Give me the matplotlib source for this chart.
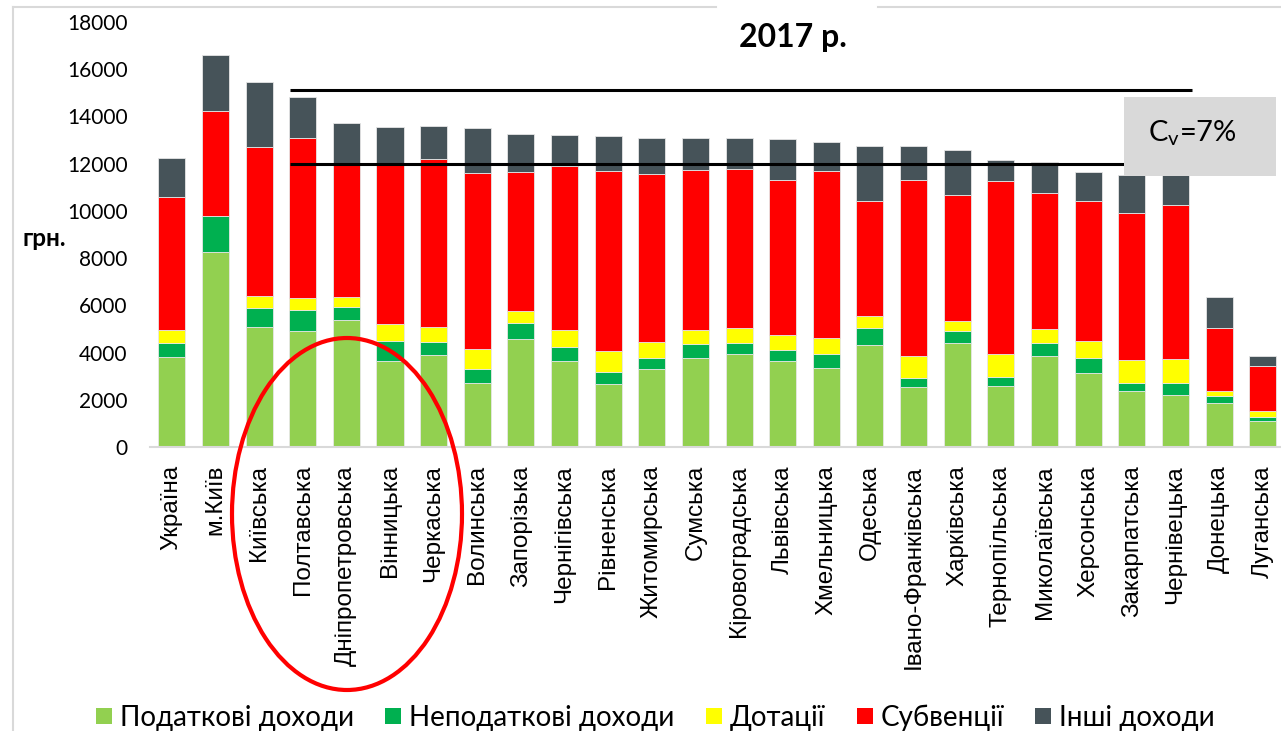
import matplotlib
matplotlib.use("Agg")
import matplotlib.pyplot as plt
from matplotlib.patches import Rectangle, Ellipse
from matplotlib.lines import Line2D
import numpy as np

categories = ['Україна', 'м.Київ', 'Київська', 'Полтавська', 'Дніпропетровська', 'Вінницька',
              'Черкаська', 'Волинська', 'Запорізька', 'Чернігівська', 'Рівненська', 'Житомирська',
              'Сумська', 'Кіровоградська', 'Львівська', 'Хмельницька', 'Одеська', 'Івано-Франківська',
              'Харківська', 'Тернопільська', 'Миколаївська', 'Херсонська', 'Закарпатська',
              'Чернівецька', 'Донецька', 'Луганська']

tax = [3820, 8260, 5070, 4920, 5360, 3650, 3900, 2710, 4570, 3630, 2670, 3300, 3780, 3950,
       3630, 3330, 4320, 2540, 4390, 2570, 3870, 3130, 2360, 2200, 1860, 1090]
nontax = [600, 1520, 830, 860, 560, 830, 550, 580, 660, 610, 510, 480, 570, 450,
          490, 610, 720, 390, 520, 390, 540, 650, 350, 510, 310, 190]
dotations = [540, 0, 480, 520, 410, 710, 650, 850, 520, 720, 890, 660, 610, 650,
             620, 690, 510, 910, 420, 990, 590, 720, 970, 1000, 200, 230]
subventions = [5620, 4430, 6310, 6760, 5590, 6790, 7100, 7440, 5890, 6930, 7610, 7130, 6760, 6710,
               6580, 7040, 4880, 7480, 5350, 7300, 5750, 5900, 6210, 6520, 2680, 1930]
other = [1650, 2370, 2770, 1740, 1800, 1580, 1370, 1930, 1600, 1310, 1470, 1510, 1370, 1300,
         1710, 1240, 2330, 1440, 1880, 900, 1330, 1230, 1610, 1300, 1290, 400]

series_names = ['Податкові доходи', 'Неподаткові доходи', 'Дотації', 'Субвенції', 'Інші доходи']
series_colors = ['#92d050', '#00b050', '#ffff00', '#ff0000', '#465359']

yticks = [0, 2000, 4000, 6000, 8000, 10000, 12000, 14000, 16000, 18000]
band_max = 15100
band_min = 12000
band_from = 2.7
band_to = 23.37

W, H = 1281, 731
fig = plt.figure(figsize=(W / 100, H / 100), dpi=100)
fig.patch.set_facecolor('white')

def fx(px):
    return px / W

def fy(py):
    return 1 - py / H

ax = fig.add_axes([fx(150), fy(447), fx(1281) - fx(150), fy(21.8) - fy(447)])

x = np.arange(len(categories))
bottom = np.zeros(len(categories))
for vals, name, col in zip([tax, nontax, dotations, subventions, other], series_names, series_colors):
    ax.bar(x, vals, width=0.62, bottom=bottom, color=col, edgecolor='#e6e6e6',
           linewidth=0.6, label=name, zorder=2)
    bottom = bottom + np.array(vals)

ax.set_xlim(-0.5, 25.42)
ax.set_ylim(0, 18000)
ax.set_yticks(yticks)
ax.set_yticklabels([str(v) for v in yticks], fontfamily='Lato', fontsize=15)
ax.set_xticks(x)
ax.set_xticklabels(categories, rotation=90, ha='center', va='top',
                   fontfamily='Liberation Sans', fontsize=17.5)
ax.tick_params(axis='both', length=0)
ax.tick_params(axis='y', pad=16)
ax.tick_params(axis='x', pad=13)
for s in ['left', 'right', 'top']:
    ax.spines[s].set_visible(False)
ax.spines['bottom'].set_color('#d9d9d9')
ax.spines['bottom'].set_linewidth(1.5)

# band lines
ax.plot([band_from, band_to], [band_max, band_max], color='black', lw=2.2, zorder=3, solid_capstyle='butt')
ax.plot([band_from, band_to], [band_min, band_min], color='black', lw=2.2, zorder=3, solid_capstyle='butt')

# figure frame lines
fig.add_artist(Line2D([fx(13), fx(716)], [fy(7), fy(7)], color='#d9d9d9', lw=1.5))
fig.add_artist(Line2D([fx(878), fx(1281)], [fy(7), fy(7)], color='#d9d9d9', lw=1.5))
fig.add_artist(Line2D([fx(13), fx(13)], [fy(7), fy(731)], color='#d9d9d9', lw=1.5))

# title
fig.text(fx(793), fy(38), '2017 р.', ha='center', va='center', fontfamily='Lato',
         fontweight='bold', fontsize=23)
# y unit
fig.text(fx(44), fy(238), 'грн.', ha='center', va='center', fontfamily='Lato',
         fontweight='bold', fontsize=17.5)

# Cv box
fig.add_artist(Rectangle((fx(1124), fy(176)), fx(1276) - fx(1124), fy(97) - fy(176),
                         transform=fig.transFigure, facecolor='#d9d9d9', edgecolor='none', zorder=5))
fig.text(fx(1192), fy(133), r'C$_\mathregular{v}$=7%', ha='center', va='center',
         fontfamily='Lato', fontsize=21, zorder=6)

# red ellipse
fig.add_artist(Ellipse((fx(347), fy(514)), fx(230), 352 / H, transform=fig.transFigure,
                       facecolor='none', edgecolor='#ff0000', lw=3, zorder=6))

# legend (manual layout)
legend_left_px = [96, 385, 706, 857, 1035]
sq = 16
ly = 715.5
for name, col, lx in zip(series_names, series_colors, legend_left_px):
    fig.add_artist(Rectangle((fx(lx), fy(ly + sq / 2)), fx(sq), sq / H, transform=fig.transFigure,
                             facecolor=col, edgecolor='none'))
    fig.text(fx(lx + 24), fy(ly), name, ha='left', va='center_baseline',
             fontfamily='Lato', fontsize=20)

fig.savefig('out.png', dpi=100, facecolor='white')
